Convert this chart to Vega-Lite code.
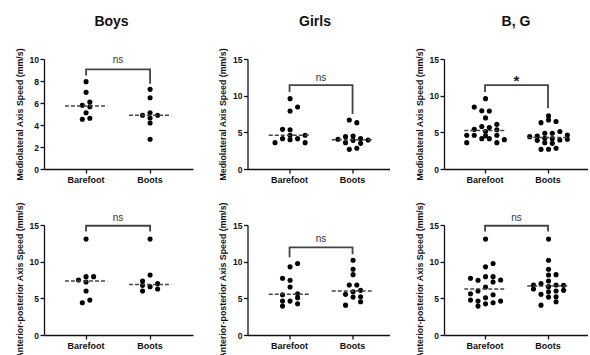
{
  "$schema": "https://vega.github.io/schema/vega-lite/v6.json",
  "padding": {"left": 15, "top": 14, "right": 0, "bottom": 0},
  "config": {
    "font": "Liberation Sans",
    "view": {"stroke": null},
    "axis": {"grid": false, "domainColor": "#111", "domainWidth": 1.3, "tickColor": "#111", "tickWidth": 1.3, "tickSize": 4, "labelFont": "Liberation Sans", "labelFontWeight": "bold", "labelFontSize": 8.5, "labelColor": "#111", "titleFont": "Liberation Sans", "titleFontWeight": "bold", "titleFontSize": 8.8, "titleColor": "#111"},
    "axisX": {"labelAngle": 0, "title": null, "labelPadding": 2, "labelFontSize": 9},
    "axisY": {"labelPadding": 1.5, "titlePadding": 5, "labelOverlap": false, "tickCount": 20, "format": "d"},
    "title": {"fontSize": 14, "fontWeight": "bold", "font": "Liberation Sans", "color": "#111", "offset": 19}
  },
  "datasets": {
    "pts": [
      {"panel": "ML Boys", "cond": "Barefoot", "value": 7.94, "slot": 0},
      {"panel": "ML Boys", "cond": "Barefoot", "value": 6.97, "slot": 0},
      {"panel": "ML Boys", "cond": "Barefoot", "value": 5.79, "slot": -1},
      {"panel": "ML Boys", "cond": "Barefoot", "value": 6.09, "slot": 1},
      {"panel": "ML Boys", "cond": "Barefoot", "value": 5.66, "slot": 1},
      {"panel": "ML Boys", "cond": "Barefoot", "value": 5.12, "slot": 0},
      {"panel": "ML Boys", "cond": "Barefoot", "value": 4.52, "slot": -1},
      {"panel": "ML Boys", "cond": "Barefoot", "value": 4.61, "slot": 1},
      {"panel": "ML Boys", "cond": "Boots", "value": 7.24, "slot": 0},
      {"panel": "ML Boys", "cond": "Boots", "value": 6.48, "slot": 0},
      {"panel": "ML Boys", "cond": "Boots", "value": 4.88, "slot": -2},
      {"panel": "ML Boys", "cond": "Boots", "value": 5.12, "slot": 0},
      {"panel": "ML Boys", "cond": "Boots", "value": 4.64, "slot": 0},
      {"panel": "ML Boys", "cond": "Boots", "value": 4.88, "slot": 2},
      {"panel": "ML Boys", "cond": "Boots", "value": 4.18, "slot": 0},
      {"panel": "ML Boys", "cond": "Boots", "value": 2.7, "slot": 0},

      {"panel": "ML Girls", "cond": "Barefoot", "value": 9.59, "slot": 0},
      {"panel": "ML Girls", "cond": "Barefoot", "value": 7.91, "slot": 0},
      {"panel": "ML Girls", "cond": "Barefoot", "value": 8.45, "slot": 2},
      {"panel": "ML Girls", "cond": "Barefoot", "value": 5.41, "slot": -2},
      {"panel": "ML Girls", "cond": "Barefoot", "value": 5.36, "slot": 0},
      {"panel": "ML Girls", "cond": "Barefoot", "value": 4.6, "slot": 0},
      {"panel": "ML Girls", "cond": "Barefoot", "value": 4.6, "slot": 4},
      {"panel": "ML Girls", "cond": "Barefoot", "value": 4.14, "slot": -2},
      {"panel": "ML Girls", "cond": "Barefoot", "value": 4.0, "slot": 0},
      {"panel": "ML Girls", "cond": "Barefoot", "value": 4.14, "slot": 2},
      {"panel": "ML Girls", "cond": "Barefoot", "value": 3.59, "slot": -4},
      {"panel": "ML Girls", "cond": "Barefoot", "value": 3.59, "slot": 4},
      {"panel": "ML Girls", "cond": "Boots", "value": 6.68, "slot": -1},
      {"panel": "ML Girls", "cond": "Boots", "value": 6.32, "slot": 1},
      {"panel": "ML Girls", "cond": "Boots", "value": 4.41, "slot": -2},
      {"panel": "ML Girls", "cond": "Boots", "value": 4.5, "slot": 0},
      {"panel": "ML Girls", "cond": "Boots", "value": 4.05, "slot": -4},
      {"panel": "ML Girls", "cond": "Boots", "value": 3.91, "slot": 0},
      {"panel": "ML Girls", "cond": "Boots", "value": 4.14, "slot": 2},
      {"panel": "ML Girls", "cond": "Boots", "value": 3.95, "slot": 4},
      {"panel": "ML Girls", "cond": "Boots", "value": 3.59, "slot": -2},
      {"panel": "ML Girls", "cond": "Boots", "value": 3.5, "slot": 2},
      {"panel": "ML Girls", "cond": "Boots", "value": 2.68, "slot": -1},
      {"panel": "ML Girls", "cond": "Boots", "value": 2.82, "slot": 1},

      {"panel": "ML BG", "cond": "Barefoot", "value": 9.59, "slot": 0},
      {"panel": "ML BG", "cond": "Barefoot", "value": 8.45, "slot": -3},
      {"panel": "ML BG", "cond": "Barefoot", "value": 7.94, "slot": -1},
      {"panel": "ML BG", "cond": "Barefoot", "value": 7.91, "slot": 1},
      {"panel": "ML BG", "cond": "Barefoot", "value": 6.97, "slot": 0},
      {"panel": "ML BG", "cond": "Barefoot", "value": 6.09, "slot": 3},
      {"panel": "ML BG", "cond": "Barefoot", "value": 5.79, "slot": -1},
      {"panel": "ML BG", "cond": "Barefoot", "value": 5.66, "slot": 1},
      {"panel": "ML BG", "cond": "Barefoot", "value": 5.41, "slot": -3},
      {"panel": "ML BG", "cond": "Barefoot", "value": 5.36, "slot": 3},
      {"panel": "ML BG", "cond": "Barefoot", "value": 5.12, "slot": 0},
      {"panel": "ML BG", "cond": "Barefoot", "value": 4.61, "slot": -5},
      {"panel": "ML BG", "cond": "Barefoot", "value": 4.6, "slot": -3},
      {"panel": "ML BG", "cond": "Barefoot", "value": 4.6, "slot": 3},
      {"panel": "ML BG", "cond": "Barefoot", "value": 4.52, "slot": 0},
      {"panel": "ML BG", "cond": "Barefoot", "value": 4.14, "slot": -1},
      {"panel": "ML BG", "cond": "Barefoot", "value": 4.14, "slot": 1},
      {"panel": "ML BG", "cond": "Barefoot", "value": 4.0, "slot": 5},
      {"panel": "ML BG", "cond": "Barefoot", "value": 3.59, "slot": -5},
      {"panel": "ML BG", "cond": "Barefoot", "value": 3.59, "slot": 3},
      {"panel": "ML BG", "cond": "Boots", "value": 7.24, "slot": 0},
      {"panel": "ML BG", "cond": "Boots", "value": 6.68, "slot": 0},
      {"panel": "ML BG", "cond": "Boots", "value": 6.48, "slot": 2},
      {"panel": "ML BG", "cond": "Boots", "value": 6.32, "slot": -2},
      {"panel": "ML BG", "cond": "Boots", "value": 5.12, "slot": 3},
      {"panel": "ML BG", "cond": "Boots", "value": 4.88, "slot": -1},
      {"panel": "ML BG", "cond": "Boots", "value": 4.88, "slot": 1},
      {"panel": "ML BG", "cond": "Boots", "value": 4.64, "slot": 5},
      {"panel": "ML BG", "cond": "Boots", "value": 4.5, "slot": -3},
      {"panel": "ML BG", "cond": "Boots", "value": 4.41, "slot": -5},
      {"panel": "ML BG", "cond": "Boots", "value": 4.18, "slot": -1},
      {"panel": "ML BG", "cond": "Boots", "value": 4.14, "slot": 1},
      {"panel": "ML BG", "cond": "Boots", "value": 4.05, "slot": 5},
      {"panel": "ML BG", "cond": "Boots", "value": 3.95, "slot": 3},
      {"panel": "ML BG", "cond": "Boots", "value": 3.91, "slot": -3},
      {"panel": "ML BG", "cond": "Boots", "value": 3.59, "slot": -1},
      {"panel": "ML BG", "cond": "Boots", "value": 3.5, "slot": 1},
      {"panel": "ML BG", "cond": "Boots", "value": 2.82, "slot": 2},
      {"panel": "ML BG", "cond": "Boots", "value": 2.7, "slot": 0},
      {"panel": "ML BG", "cond": "Boots", "value": 2.68, "slot": -2},

      {"panel": "AP Boys", "cond": "Barefoot", "value": 13.08, "slot": 0},
      {"panel": "AP Boys", "cond": "Barefoot", "value": 7.5, "slot": -2},
      {"panel": "AP Boys", "cond": "Barefoot", "value": 7.96, "slot": 0},
      {"panel": "AP Boys", "cond": "Barefoot", "value": 7.96, "slot": 2},
      {"panel": "AP Boys", "cond": "Barefoot", "value": 7.23, "slot": 0},
      {"panel": "AP Boys", "cond": "Barefoot", "value": 5.99, "slot": 0},
      {"panel": "AP Boys", "cond": "Barefoot", "value": 4.39, "slot": -1},
      {"panel": "AP Boys", "cond": "Barefoot", "value": 4.76, "slot": 1},
      {"panel": "AP Boys", "cond": "Boots", "value": 13.08, "slot": 0},
      {"panel": "AP Boys", "cond": "Boots", "value": 8.19, "slot": 0},
      {"panel": "AP Boys", "cond": "Boots", "value": 7.37, "slot": -2},
      {"panel": "AP Boys", "cond": "Boots", "value": 6.77, "slot": -2},
      {"panel": "AP Boys", "cond": "Boots", "value": 6.59, "slot": 0},
      {"panel": "AP Boys", "cond": "Boots", "value": 7.0, "slot": 2},
      {"panel": "AP Boys", "cond": "Boots", "value": 6.27, "slot": 2},
      {"panel": "AP Boys", "cond": "Boots", "value": 5.99, "slot": -2},

      {"panel": "AP Girls", "cond": "Barefoot", "value": 9.29, "slot": 0},
      {"panel": "AP Girls", "cond": "Barefoot", "value": 9.74, "slot": 2},
      {"panel": "AP Girls", "cond": "Barefoot", "value": 7.74, "slot": -2},
      {"panel": "AP Girls", "cond": "Barefoot", "value": 7.46, "slot": 0},
      {"panel": "AP Girls", "cond": "Barefoot", "value": 6.54, "slot": 0},
      {"panel": "AP Girls", "cond": "Barefoot", "value": 5.49, "slot": -2},
      {"panel": "AP Girls", "cond": "Barefoot", "value": 5.63, "slot": 2},
      {"panel": "AP Girls", "cond": "Barefoot", "value": 5.08, "slot": 2},
      {"panel": "AP Girls", "cond": "Barefoot", "value": 4.62, "slot": -2},
      {"panel": "AP Girls", "cond": "Barefoot", "value": 4.62, "slot": 0},
      {"panel": "AP Girls", "cond": "Barefoot", "value": 4.25, "slot": 2},
      {"panel": "AP Girls", "cond": "Barefoot", "value": 3.94, "slot": -2},
      {"panel": "AP Girls", "cond": "Boots", "value": 10.2, "slot": 0},
      {"panel": "AP Girls", "cond": "Boots", "value": 8.97, "slot": 0},
      {"panel": "AP Girls", "cond": "Boots", "value": 8.23, "slot": 0},
      {"panel": "AP Girls", "cond": "Boots", "value": 6.82, "slot": -1},
      {"panel": "AP Girls", "cond": "Boots", "value": 6.82, "slot": 1},
      {"panel": "AP Girls", "cond": "Boots", "value": 5.54, "slot": -2},
      {"panel": "AP Girls", "cond": "Boots", "value": 5.9, "slot": 0},
      {"panel": "AP Girls", "cond": "Boots", "value": 6.09, "slot": 2},
      {"panel": "AP Girls", "cond": "Boots", "value": 5.17, "slot": 0},
      {"panel": "AP Girls", "cond": "Boots", "value": 5.21, "slot": 2},
      {"panel": "AP Girls", "cond": "Boots", "value": 4.53, "slot": 2},
      {"panel": "AP Girls", "cond": "Boots", "value": 4.07, "slot": -2},

      {"panel": "AP BG", "cond": "Barefoot", "value": 13.08, "slot": 0},
      {"panel": "AP BG", "cond": "Barefoot", "value": 9.74, "slot": 2},
      {"panel": "AP BG", "cond": "Barefoot", "value": 9.29, "slot": 0},
      {"panel": "AP BG", "cond": "Barefoot", "value": 7.96, "slot": 0},
      {"panel": "AP BG", "cond": "Barefoot", "value": 7.96, "slot": 2},
      {"panel": "AP BG", "cond": "Barefoot", "value": 7.74, "slot": -4},
      {"panel": "AP BG", "cond": "Barefoot", "value": 7.5, "slot": 4},
      {"panel": "AP BG", "cond": "Barefoot", "value": 7.46, "slot": -2},
      {"panel": "AP BG", "cond": "Barefoot", "value": 7.23, "slot": 2},
      {"panel": "AP BG", "cond": "Barefoot", "value": 6.54, "slot": 0},
      {"panel": "AP BG", "cond": "Barefoot", "value": 5.99, "slot": -2},
      {"panel": "AP BG", "cond": "Barefoot", "value": 5.63, "slot": -4},
      {"panel": "AP BG", "cond": "Barefoot", "value": 5.49, "slot": 2},
      {"panel": "AP BG", "cond": "Barefoot", "value": 5.08, "slot": 0},
      {"panel": "AP BG", "cond": "Barefoot", "value": 4.76, "slot": -4},
      {"panel": "AP BG", "cond": "Barefoot", "value": 4.62, "slot": -2},
      {"panel": "AP BG", "cond": "Barefoot", "value": 4.62, "slot": 4},
      {"panel": "AP BG", "cond": "Barefoot", "value": 4.39, "slot": 2},
      {"panel": "AP BG", "cond": "Barefoot", "value": 4.25, "slot": 0},
      {"panel": "AP BG", "cond": "Barefoot", "value": 3.94, "slot": -2},
      {"panel": "AP BG", "cond": "Boots", "value": 13.08, "slot": 0},
      {"panel": "AP BG", "cond": "Boots", "value": 10.2, "slot": 0},
      {"panel": "AP BG", "cond": "Boots", "value": 8.97, "slot": 0},
      {"panel": "AP BG", "cond": "Boots", "value": 8.19, "slot": 0},
      {"panel": "AP BG", "cond": "Boots", "value": 8.23, "slot": 2},
      {"panel": "AP BG", "cond": "Boots", "value": 7.37, "slot": 0},
      {"panel": "AP BG", "cond": "Boots", "value": 7.0, "slot": -2},
      {"panel": "AP BG", "cond": "Boots", "value": 6.82, "slot": -4},
      {"panel": "AP BG", "cond": "Boots", "value": 6.82, "slot": 2},
      {"panel": "AP BG", "cond": "Boots", "value": 6.77, "slot": 4},
      {"panel": "AP BG", "cond": "Boots", "value": 6.59, "slot": 0},
      {"panel": "AP BG", "cond": "Boots", "value": 6.27, "slot": -4},
      {"panel": "AP BG", "cond": "Boots", "value": 6.09, "slot": 4},
      {"panel": "AP BG", "cond": "Boots", "value": 5.99, "slot": 2},
      {"panel": "AP BG", "cond": "Boots", "value": 5.9, "slot": 0},
      {"panel": "AP BG", "cond": "Boots", "value": 5.54, "slot": -2},
      {"panel": "AP BG", "cond": "Boots", "value": 5.21, "slot": 2},
      {"panel": "AP BG", "cond": "Boots", "value": 5.17, "slot": 0},
      {"panel": "AP BG", "cond": "Boots", "value": 4.53, "slot": 2},
      {"panel": "AP BG", "cond": "Boots", "value": 4.07, "slot": -2}
    ],
    "brk": [
      {"panel": "ML Boys", "cond": "Barefoot", "y": 8.5, "ord": 0},
      {"panel": "ML Boys", "cond": "Barefoot", "y": 9.06, "ord": 1},
      {"panel": "ML Boys", "cond": "Boots", "y": 9.06, "ord": 2},
      {"panel": "ML Boys", "cond": "Boots", "y": 7.75, "ord": 3},
      {"panel": "ML Girls", "cond": "Barefoot", "y": 10.5, "ord": 0},
      {"panel": "ML Girls", "cond": "Barefoot", "y": 11.45, "ord": 1},
      {"panel": "ML Girls", "cond": "Boots", "y": 11.45, "ord": 2},
      {"panel": "ML Girls", "cond": "Boots", "y": 7.5, "ord": 3},
      {"panel": "ML BG", "cond": "Barefoot", "y": 10.5, "ord": 0},
      {"panel": "ML BG", "cond": "Barefoot", "y": 11.45, "ord": 1},
      {"panel": "ML BG", "cond": "Boots", "y": 11.45, "ord": 2},
      {"panel": "ML BG", "cond": "Boots", "y": 8.3, "ord": 3},
      {"panel": "AP Boys", "cond": "Barefoot", "y": 14.1, "ord": 0},
      {"panel": "AP Boys", "cond": "Barefoot", "y": 14.9, "ord": 1},
      {"panel": "AP Boys", "cond": "Boots", "y": 14.9, "ord": 2},
      {"panel": "AP Boys", "cond": "Boots", "y": 14.1, "ord": 3},
      {"panel": "AP Girls", "cond": "Barefoot", "y": 10.6, "ord": 0},
      {"panel": "AP Girls", "cond": "Barefoot", "y": 11.95, "ord": 1},
      {"panel": "AP Girls", "cond": "Boots", "y": 11.95, "ord": 2},
      {"panel": "AP Girls", "cond": "Boots", "y": 11.0, "ord": 3},
      {"panel": "AP BG", "cond": "Barefoot", "y": 14.1, "ord": 0},
      {"panel": "AP BG", "cond": "Barefoot", "y": 14.9, "ord": 1},
      {"panel": "AP BG", "cond": "Boots", "y": 14.9, "ord": 2},
      {"panel": "AP BG", "cond": "Boots", "y": 14.1, "ord": 3}
    ],
    "sig": [
      {"panel": "ML Boys", "cond": "Boots", "label": "ns", "y": 9.9},
      {"panel": "ML Girls", "cond": "Boots", "label": "ns", "y": 12.45},
      {"panel": "ML BG", "cond": "Boots", "label": "*", "y": 12.0},
      {"panel": "AP Boys", "cond": "Boots", "label": "ns", "y": 16.0},
      {"panel": "AP Girls", "cond": "Boots", "label": "ns", "y": 13.1},
      {"panel": "AP BG", "cond": "Boots", "label": "ns", "y": 16.0}
    ]
  },
  "columns": 3,
  "bounds": "flush",
  "align": "each",
  "spacing": {"row": 56, "column": 54.5},
  "concat": [
    {
      "width": 149, "height": 110,
      "title": {"text": "Boys", "dx": -7},
      "layer": [
        {"data": {"name": "pts"}, "transform": [{"filter": "datum.panel === 'ML Boys'"}],
         "mark": {"type": "point", "filled": true, "size": 26, "color": "#000", "opacity": 1},
         "encoding": {
           "x": {"field": "cond", "type": "nominal", "sort": ["Barefoot", "Boots"], "scale": {"paddingInner": 0, "paddingOuter": 0.164, "align": 0.48}},
           "xOffset": {"field": "slot", "type": "quantitative", "scale": {"domain": [-7.1, 7.1]}},
           "y": {"field": "value", "type": "quantitative", "scale": {"domain": [0, 10], "nice": false}, "axis": {"values": [0, 2, 4, 6, 8, 10], "tickCount": 20, "format": "d", "title": "Mediolateral Axis Speed (mm/s)"}}
         }},
        {"data": {"name": "pts"}, "transform": [{"filter": "datum.panel === 'ML Boys'"}],
         "mark": {"type": "rule", "strokeDash": [4, 2], "strokeWidth": 1.5, "color": "#444"},
         "encoding": {
           "x": {"field": "cond", "type": "nominal", "bandPosition": 0.17},
           "x2": {"field": "cond", "bandPosition": 0.83},
           "y": {"aggregate": "median", "field": "value", "type": "quantitative"}
         }},
        {"data": {"name": "brk"}, "transform": [{"filter": "datum.panel === 'ML Boys'"}],
         "mark": {"type": "line", "color": "#444", "strokeWidth": 1.8},
         "encoding": {
           "x": {"field": "cond", "type": "nominal"},
           "y": {"field": "y", "type": "quantitative"},
           "order": {"field": "ord"}
         }},
        {"data": {"name": "sig"}, "transform": [{"filter": "datum.panel === 'ML Boys'"}],
         "mark": {"type": "text", "fontSize": 10, "color": "#333"},
         "encoding": {
           "x": {"field": "cond", "type": "nominal", "bandPosition": 0},
           "y": {"field": "y", "type": "quantitative"},
           "text": {"field": "label"}
         }}
      ]
    },
    {
      "width": 142, "height": 110,
      "title": {"text": "Girls", "dx": -3.5},
      "layer": [
        {"data": {"name": "pts"}, "transform": [{"filter": "datum.panel === 'ML Girls'"}],
         "mark": {"type": "point", "filled": true, "size": 26, "color": "#000", "opacity": 1},
         "encoding": {
           "x": {"field": "cond", "type": "nominal", "sort": ["Barefoot", "Boots"], "scale": {"paddingInner": 0, "paddingOuter": 0.127, "align": 0.66}},
           "xOffset": {"field": "slot", "type": "quantitative", "scale": {"domain": [-6.7, 6.7]}},
           "y": {"field": "value", "type": "quantitative", "scale": {"domain": [0, 15], "nice": false}, "axis": {"values": [0, 5, 10, 15], "tickCount": 20, "format": "d", "title": "Mediolateral Axis Speed (mm/s)"}}
         }},
        {"data": {"name": "pts"}, "transform": [{"filter": "datum.panel === 'ML Girls'"}],
         "mark": {"type": "rule", "strokeDash": [4, 2], "strokeWidth": 1.5, "color": "#444"},
         "encoding": {
           "x": {"field": "cond", "type": "nominal", "bandPosition": 0.17},
           "x2": {"field": "cond", "bandPosition": 0.83},
           "y": {"aggregate": "median", "field": "value", "type": "quantitative"}
         }},
        {"data": {"name": "brk"}, "transform": [{"filter": "datum.panel === 'ML Girls'"}],
         "mark": {"type": "line", "color": "#444", "strokeWidth": 1.8},
         "encoding": {
           "x": {"field": "cond", "type": "nominal"},
           "y": {"field": "y", "type": "quantitative"},
           "order": {"field": "ord"}
         }},
        {"data": {"name": "sig"}, "transform": [{"filter": "datum.panel === 'ML Girls'"}],
         "mark": {"type": "text", "fontSize": 10, "color": "#333"},
         "encoding": {
           "x": {"field": "cond", "type": "nominal", "bandPosition": 0},
           "y": {"field": "y", "type": "quantitative"},
           "text": {"field": "label"}
         }}
      ]
    },
    {
      "width": 144, "height": 110,
      "title": {"text": "B, G"},
      "layer": [
        {"data": {"name": "pts"}, "transform": [{"filter": "datum.panel === 'ML BG'"}],
         "mark": {"type": "point", "filled": true, "size": 26, "color": "#000", "opacity": 1},
         "encoding": {
           "x": {"field": "cond", "type": "nominal", "sort": ["Barefoot", "Boots"], "scale": {"paddingInner": 0, "paddingOuter": 0.143, "align": 0.53}},
           "xOffset": {"field": "slot", "type": "quantitative", "scale": {"domain": [-8.5, 8.5]}},
           "y": {"field": "value", "type": "quantitative", "scale": {"domain": [0, 15], "nice": false}, "axis": {"values": [0, 5, 10, 15], "tickCount": 20, "format": "d", "title": "Mediolateral Axis Speed (mm/s)"}}
         }},
        {"data": {"name": "pts"}, "transform": [{"filter": "datum.panel === 'ML BG'"}],
         "mark": {"type": "rule", "strokeDash": [4, 2], "strokeWidth": 1.5, "color": "#444"},
         "encoding": {
           "x": {"field": "cond", "type": "nominal", "bandPosition": 0.17},
           "x2": {"field": "cond", "bandPosition": 0.83},
           "y": {"aggregate": "median", "field": "value", "type": "quantitative"}
         }},
        {"data": {"name": "brk"}, "transform": [{"filter": "datum.panel === 'ML BG'"}],
         "mark": {"type": "line", "color": "#444", "strokeWidth": 1.8},
         "encoding": {
           "x": {"field": "cond", "type": "nominal"},
           "y": {"field": "y", "type": "quantitative"},
           "order": {"field": "ord"}
         }},
        {"data": {"name": "sig"}, "transform": [{"filter": "datum.panel === 'ML BG'"}],
         "mark": {"type": "text", "fontSize": 15, "fontWeight": "bold", "color": "#222"},
         "encoding": {
           "x": {"field": "cond", "type": "nominal", "bandPosition": 0},
           "y": {"field": "y", "type": "quantitative"},
           "text": {"field": "label"}
         }}
      ]
    },
    {
      "width": 149, "height": 110,
      "layer": [
        {"data": {"name": "pts"}, "transform": [{"filter": "datum.panel === 'AP Boys'"}],
         "mark": {"type": "point", "filled": true, "size": 26, "color": "#000", "opacity": 1},
         "encoding": {
           "x": {"field": "cond", "type": "nominal", "sort": ["Barefoot", "Boots"], "scale": {"paddingInner": 0, "paddingOuter": 0.164, "align": 0.48}},
           "xOffset": {"field": "slot", "type": "quantitative", "scale": {"domain": [-7, 7]}},
           "y": {"field": "value", "type": "quantitative", "scale": {"domain": [0, 15], "nice": false}, "axis": {"values": [0, 5, 10, 15], "tickCount": 20, "format": "d", "title": "Anterior-posterior Axis Speed (mm/s)"}}
         }},
        {"data": {"name": "pts"}, "transform": [{"filter": "datum.panel === 'AP Boys'"}],
         "mark": {"type": "rule", "strokeDash": [4, 2], "strokeWidth": 1.5, "color": "#444"},
         "encoding": {
           "x": {"field": "cond", "type": "nominal", "bandPosition": 0.17},
           "x2": {"field": "cond", "bandPosition": 0.83},
           "y": {"aggregate": "median", "field": "value", "type": "quantitative"}
         }},
        {"data": {"name": "brk"}, "transform": [{"filter": "datum.panel === 'AP Boys'"}],
         "mark": {"type": "line", "color": "#444", "strokeWidth": 1.8},
         "encoding": {
           "x": {"field": "cond", "type": "nominal"},
           "y": {"field": "y", "type": "quantitative"},
           "order": {"field": "ord"}
         }},
        {"data": {"name": "sig"}, "transform": [{"filter": "datum.panel === 'AP Boys'"}],
         "mark": {"type": "text", "fontSize": 10, "color": "#333"},
         "encoding": {
           "x": {"field": "cond", "type": "nominal", "bandPosition": 0},
           "y": {"field": "y", "type": "quantitative"},
           "text": {"field": "label"}
         }}
      ]
    },
    {
      "width": 142, "height": 110,
      "layer": [
        {"data": {"name": "pts"}, "transform": [{"filter": "datum.panel === 'AP Girls'"}],
         "mark": {"type": "point", "filled": true, "size": 26, "color": "#000", "opacity": 1},
         "encoding": {
           "x": {"field": "cond", "type": "nominal", "sort": ["Barefoot", "Boots"], "scale": {"paddingInner": 0, "paddingOuter": 0.127, "align": 0.66}},
           "xOffset": {"field": "slot", "type": "quantitative", "scale": {"domain": [-6.7, 6.7]}},
           "y": {"field": "value", "type": "quantitative", "scale": {"domain": [0, 15], "nice": false}, "axis": {"values": [0, 5, 10, 15], "tickCount": 20, "format": "d", "title": "Anterior-posterior Axis Speed (mm/s)"}}
         }},
        {"data": {"name": "pts"}, "transform": [{"filter": "datum.panel === 'AP Girls'"}],
         "mark": {"type": "rule", "strokeDash": [4, 2], "strokeWidth": 1.5, "color": "#444"},
         "encoding": {
           "x": {"field": "cond", "type": "nominal", "bandPosition": 0.17},
           "x2": {"field": "cond", "bandPosition": 0.83},
           "y": {"aggregate": "median", "field": "value", "type": "quantitative"}
         }},
        {"data": {"name": "brk"}, "transform": [{"filter": "datum.panel === 'AP Girls'"}],
         "mark": {"type": "line", "color": "#444", "strokeWidth": 1.8},
         "encoding": {
           "x": {"field": "cond", "type": "nominal"},
           "y": {"field": "y", "type": "quantitative"},
           "order": {"field": "ord"}
         }},
        {"data": {"name": "sig"}, "transform": [{"filter": "datum.panel === 'AP Girls'"}],
         "mark": {"type": "text", "fontSize": 10, "color": "#333"},
         "encoding": {
           "x": {"field": "cond", "type": "nominal", "bandPosition": 0},
           "y": {"field": "y", "type": "quantitative"},
           "text": {"field": "label"}
         }}
      ]
    },
    {
      "width": 144, "height": 110,
      "layer": [
        {"data": {"name": "pts"}, "transform": [{"filter": "datum.panel === 'AP BG'"}],
         "mark": {"type": "point", "filled": true, "size": 26, "color": "#000", "opacity": 1},
         "encoding": {
           "x": {"field": "cond", "type": "nominal", "sort": ["Barefoot", "Boots"], "scale": {"paddingInner": 0, "paddingOuter": 0.143, "align": 0.53}},
           "xOffset": {"field": "slot", "type": "quantitative", "scale": {"domain": [-6.85, 6.85]}},
           "y": {"field": "value", "type": "quantitative", "scale": {"domain": [0, 15], "nice": false}, "axis": {"values": [0, 5, 10, 15], "tickCount": 20, "format": "d", "title": "Anterior-posterior Axis Speed (mm/s)"}}
         }},
        {"data": {"name": "pts"}, "transform": [{"filter": "datum.panel === 'AP BG'"}],
         "mark": {"type": "rule", "strokeDash": [4, 2], "strokeWidth": 1.5, "color": "#444"},
         "encoding": {
           "x": {"field": "cond", "type": "nominal", "bandPosition": 0.17},
           "x2": {"field": "cond", "bandPosition": 0.83},
           "y": {"aggregate": "median", "field": "value", "type": "quantitative"}
         }},
        {"data": {"name": "brk"}, "transform": [{"filter": "datum.panel === 'AP BG'"}],
         "mark": {"type": "line", "color": "#444", "strokeWidth": 1.8},
         "encoding": {
           "x": {"field": "cond", "type": "nominal"},
           "y": {"field": "y", "type": "quantitative"},
           "order": {"field": "ord"}
         }},
        {"data": {"name": "sig"}, "transform": [{"filter": "datum.panel === 'AP BG'"}],
         "mark": {"type": "text", "fontSize": 10, "color": "#333"},
         "encoding": {
           "x": {"field": "cond", "type": "nominal", "bandPosition": 0},
           "y": {"field": "y", "type": "quantitative"},
           "text": {"field": "label"}
         }}
      ]
    }
  ]
}
